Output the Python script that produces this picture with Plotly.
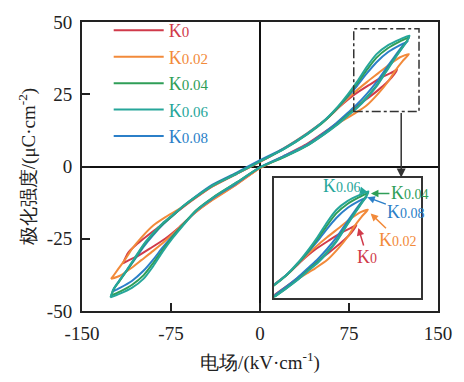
import plotly.graph_objects as go

FONT = "'Liberation Serif', 'Times New Roman', serif"

names = ["K0", "K0.02", "K0.04", "K0.06", "K0.08"]
subs = ["0", "0.02", "0.04", "0.06", "0.08"]
colors = ["#d03a4a", "#f28a3a", "#2f9e57", "#26a69a", "#2b7fc8"]

# ---- K0 ----
k0_e_up = [115.5, 110, 103, 92, 80, 68, 56, 40, 20, 0, -20, -40, -54, -64, -74, -84, -92, -100, -106, -111, -115.5]
k0_p_up = [33.5, 32.3, 31.0, 28.2, 25.0, 21.0, 16.4, 11.4, 6.2, 1.6, -2.6, -6.9, -10.8, -13.8, -17.0, -20.5, -23.0, -25.6, -27.7, -29.8, -33.5]
k0_e_low = [-115.5, -110, -103, -92, -80, -68, -56, -40, -20, 0, 20, 40, 54, 64, 74, 84, 92, 100, 106, 111, 115.5]
k0_p_low = [-33.5, -32.3, -31.0, -28.2, -25.0, -21.0, -16.4, -11.4, -6.2, -0.5, 3.6, 7.9, 11.8, 14.8, 18.0, 21.5, 24.0, 26.6, 28.7, 30.8, 33.5]

# ---- K0.02 ----
k2_e_up = [125.5, 118, 109, 100, 90, 80, 68, 56, 40, 20, 0, -20, -40, -54, -64, -74, -80, -90, -100, -108, -114, -120, -125.5]
k2_p_up = [38.9, 37.8, 35.3, 32.4, 29.2, 25.8, 21.2, 16.4, 11.6, 6.3, 1.6, -2.6, -6.8, -10.6, -13.6, -16.1, -17.6, -20.4, -24.6, -28.6, -32.4, -35.8, -38.9]
k2_e_low = [-125.5, -118, -109, -100, -90, -80, -68, -56, -40, -20, 0, 20, 40, 54, 64, 74, 80, 90, 100, 108, 114, 120, 125.5]
k2_p_low = [-38.9, -37.8, -35.3, -32.4, -29.2, -25.8, -21.2, -16.4, -11.6, -6.3, -0.6, 3.4, 7.6, 11.4, 14.4, 16.9, 18.4, 21.2, 25.4, 29.4, 33.2, 36.4, 38.9]

# ---- K0.04 ----
k4_e_up = [125.5, 118, 108, 98, 90, 82, 74, 64, 54, 40, 20, 0, -20, -40, -54, -64, -74, -82, -90, -98, -106, -113, -119, -123, -125.5]
k4_p_up = [44.7, 43.3, 41.0, 37.6, 33.4, 28.8, 24.5, 19.7, 15.6, 11.2, 6.0, 1.8, -2.5, -6.6, -10.5, -13.6, -17.1, -19.9, -23.3, -27.2, -32.2, -36.5, -40.0, -42.3, -44.7]
k4_e_low = [-125.5, -118, -108, -98, -90, -82, -74, -64, -54, -40, -20, 0, 20, 40, 54, 64, 74, 82, 90, 98, 106, 113, 119, 123, 125.5]
k4_p_low = [-44.7, -43.3, -41.0, -37.6, -33.4, -28.8, -24.5, -19.7, -15.2, -10.8, -5.6, -0.3, 3.2, 7.3, 11.2, 14.3, 17.9, 20.6, 24.0, 27.9, 32.9, 37.2, 40.7, 43.0, 44.7]

# ---- K0.06 ----
k6_e_up = [126, 118, 108, 98, 90, 82, 74, 64, 54, 40, 20, 0, -20, -40, -54, -64, -74, -82, -90, -98, -106, -113, -119, -123, -126]
k6_p_up = [45.3, 44.0, 42.0, 38.8, 34.5, 29.5, 25.0, 20.0, 15.8, 11.3, 6.0, 1.8, -2.6, -6.6, -10.4, -13.4, -16.9, -19.6, -23.0, -26.9, -31.9, -36.3, -39.8, -42.1, -45.3]
k6_e_low = [-126, -118, -108, -98, -90, -82, -74, -64, -54, -40, -20, 0, 20, 40, 54, 64, 74, 82, 90, 98, 106, 113, 119, 123, 126]
k6_p_low = [-45.3, -44.0, -42.0, -38.8, -34.5, -29.5, -25.0, -20.0, -15.4, -10.9, -5.6, -0.3, 3.3, 7.3, 11.1, 14.1, 17.6, 20.3, 23.7, 27.6, 32.6, 37.0, 40.5, 42.8, 45.3]

# ---- K0.08 ----
k8_e_up = [124.5, 118, 108, 98, 90, 82, 74, 64, 54, 40, 20, 0, -20, -40, -54, -64, -74, -82, -90, -98, -106, -113, -119, -122, -124.5]
k8_p_up = [43.3, 42.0, 39.6, 36.0, 32.2, 28.0, 24.2, 19.7, 15.8, 11.5, 6.3, 2.2, -2.2, -6.3, -10.3, -13.5, -17.2, -20.2, -23.7, -27.7, -32.4, -36.4, -39.7, -41.5, -43.3]
k8_e_low = [-124.5, -118, -108, -98, -90, -82, -74, -64, -54, -40, -20, 0, 20, 40, 54, 64, 74, 82, 90, 98, 106, 113, 119, 122, 124.5]
k8_p_low = [-43.3, -42.0, -39.6, -36.0, -32.2, -28.0, -24.2, -19.7, -15.4, -11.1, -5.9, -0.2, 3.6, 7.7, 11.7, 14.9, 18.6, 21.6, 25.1, 29.1, 33.8, 37.8, 41.1, 42.5, 43.3]

loops = {
    "K0": (k0_e_up + k0_e_low, k0_p_up + k0_p_low),
    "K0.02": (k2_e_up + k2_e_low, k2_p_up + k2_p_low),
    "K0.04": (k4_e_up + k4_e_low, k4_p_up + k4_p_low),
    "K0.06": (k6_e_up + k6_e_low, k6_p_up + k6_p_low),
    "K0.08": (k8_e_up + k8_e_low, k8_p_up + k8_p_low),
}

x_ticks = [-150, -75, 0, 75, 150]
x_ticktext = ["-150", "-75", "0", "75", "150"]
y_ticks = [-50, -25, 0, 25, 50]
y_ticktext = ["-50", "-25", "0", "25", "50"]

# inset annotation: arrow head (data) and text offset (px)
inset_labels = {
    "K0.06": (126, 45.0, -26, -6),
    "K0.04": (127.3, 44.6, 40, 0),
    "K0.08": (124.2, 43.4, 40, 15),
    "K0.02": (127.3, 37.8, 28, 27),
    "K0": (117, 32.8, 9, 30),
}


def label(i, big=18, small=15):
    c = colors[i]
    return (f"<span style='color:{c};font-size:{big}px'>K</span>"
            f"<span style='color:{c};font-size:{small}px'>{subs[i]}</span>")


fig = go.Figure()
draw_order = [0, 1, 4, 2, 3]
for i in draw_order:
    n = names[i]
    ex, py = loops[n]
    fig.add_trace(go.Scatter(x=ex, y=py, mode="lines", name=label(i), legendrank=i + 1,
                             line=dict(color=colors[i], width=2, shape="spline", smoothing=0.6),
                             xaxis="x", yaxis="y"))
for i in draw_order:
    n = names[i]
    ex, py = loops[n]
    fig.add_trace(go.Scatter(x=ex, y=py, mode="lines", showlegend=False,
                             line=dict(color=colors[i], width=2, shape="spline", smoothing=0.6),
                             xaxis="x2", yaxis="y2"))

annotations = []
for i, n in enumerate(names):
    hx, hy, ax, ay = inset_labels[n]
    annotations.append(dict(x=hx, y=hy, xref="x2", yref="y2", ax=ax, ay=ay,
                            text=label(i, 18, 14), showarrow=True, arrowhead=2,
                            arrowsize=1, arrowwidth=1.5, arrowcolor=colors[i],
                            standoff=1, font=dict(family=FONT, size=18)))
# arrow from zoom box to inset
annotations.append(dict(x=119, y=-3.8, xref="x", yref="y", ax=119, ay=19, axref="x", ayref="y",
                        text="", showarrow=True, arrowhead=2, arrowsize=1.2, arrowwidth=1.5,
                        arrowcolor="#333"))

fig.add_shape(type="rect", xref="x", yref="y", x0=79, x1=134, y0=19, y1=47.7,
              line=dict(color="#333", width=1.5, dash="dashdot"))

axis_common = dict(showgrid=False, showline=True, mirror=True, linecolor="#222", linewidth=2,
                   ticks="inside", ticklen=8, tickwidth=2, tickcolor="#222",
                   zeroline=True, zerolinecolor="#111", zerolinewidth=2,
                   tickfont=dict(family=FONT, size=19, color="#222"))

fig.update_layout(
    width=464, height=382,
    margin=dict(l=82, r=17, t=14, b=66),
    paper_bgcolor="white", plot_bgcolor="white",
    font=dict(family=FONT, size=19, color="#222"),
    xaxis=dict(axis_common, range=[-150, 150], tickvals=x_ticks, ticktext=x_ticktext,
               ticklabelstandoff=4,
               title=dict(text="电场/(kV·cm<sup>-1</sup>)", font=dict(size=19), standoff=13)),
    yaxis=dict(axis_common, range=[-50, 50], tickvals=y_ticks, ticktext=y_ticktext,
               ticklabelstandoff=4,
               title=dict(text="极化强度/(μC·cm<sup>-2</sup>)", font=dict(size=19), standoff=6)),
    xaxis2=dict(domain=[0.54, 0.953], anchor="y2", range=[44, 172], showticklabels=False,
                ticks="", showgrid=False, zeroline=False, showline=True, mirror=True,
                linecolor="#333", linewidth=1.5),
    yaxis2=dict(domain=[0.046, 0.46], anchor="x2", range=[8, 50], showticklabels=False,
                ticks="", showgrid=False, zeroline=False, showline=True, mirror=True,
                linecolor="#333", linewidth=1.5),
    legend=dict(x=0.075, y=1.034, xanchor="left", yanchor="top", bgcolor="rgba(0,0,0,0)",
                font=dict(family=FONT, size=18), itemwidth=50, tracegroupgap=0),
    annotations=annotations,
    showlegend=True,
)

fig.write_html("out.html")
